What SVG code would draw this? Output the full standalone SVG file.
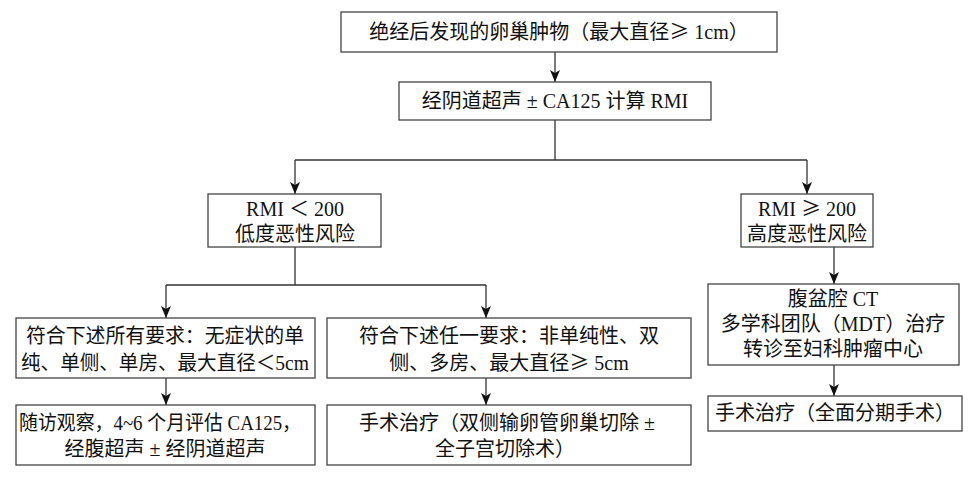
<svg xmlns="http://www.w3.org/2000/svg" width="978" height="490" viewBox="0 0 978 490">
<defs><marker id="a" markerWidth="12" markerHeight="10" refX="12" refY="5" orient="auto" markerUnits="userSpaceOnUse" viewBox="0 0 12 10"><path d="M0,0 L12,5 L0,10 L3,5 Z" fill="#111"/></marker></defs>
<style>
rect{fill:#fff;stroke:#444;stroke-width:1.3}
text{font-family:"Liberation Serif","Noto Sans CJK SC",serif;font-size:20px;fill:#111;text-anchor:middle}
.s{font-family:"Noto Sans CJK SC",sans-serif}
.c line,.c path{stroke:#333;stroke-width:1.3;fill:none}
</style>
<rect width="978" height="490" style="fill:#fff;stroke:none"/>
<g class="c">
<line x1="555" y1="52" x2="555" y2="82" marker-end="url(#a)"/>
<path d="M555,120 V160 M295,160 H807"/>
<line x1="295" y1="160" x2="295" y2="194" marker-end="url(#a)"/>
<line x1="807" y1="160" x2="807" y2="194" marker-end="url(#a)"/>
<path d="M295,247 V285 M166,285 H486"/>
<line x1="166" y1="285" x2="166" y2="318" marker-end="url(#a)"/>
<line x1="486" y1="285" x2="486" y2="318" marker-end="url(#a)"/>
<line x1="166" y1="378" x2="166" y2="405" marker-end="url(#a)"/>
<line x1="486" y1="378" x2="486" y2="405" marker-end="url(#a)"/>
<line x1="834" y1="247" x2="834" y2="284" marker-end="url(#a)"/>
<line x1="834" y1="365" x2="834" y2="396" marker-end="url(#a)"/>
</g>
<g id="n1"><rect x="341" y="12" width="436" height="40"/><text x="559" y="39">绝经后发现的卵巢肿物（最大直径<tspan class="s">≥</tspan> 1cm）</text></g>
<g id="n2"><rect x="399" y="82" width="312" height="38"/><text x="555" y="108">经阴道超声 ± CA125 计算 RMI</text></g>
<g id="n3"><rect x="208" y="194" width="173" height="53"/><text x="295" y="216">RMI <tspan class="s">＜</tspan> 200</text><text x="295" y="241">低度恶性风险</text></g>
<g id="n4"><rect x="741" y="194" width="132" height="53"/><text x="807" y="216">RMI <tspan class="s">≥</tspan> 200</text><text x="807" y="241">高度恶性风险</text></g>
<g id="n5"><rect x="16" y="318" width="299" height="60"/><text x="165" y="343" textLength="278" lengthAdjust="spacingAndGlyphs">符合下述所有要求：无症状的单</text><text x="165" y="370" textLength="288" lengthAdjust="spacingAndGlyphs">纯、单侧、单房、最大直径<tspan class="s">＜</tspan>5cm</text></g>
<g id="n6"><rect x="327" y="318" width="364" height="60"/><text x="509" y="343">符合下述任一要求：非单纯性、双</text><text x="509" y="370">侧、多房、最大直径<tspan class="s">≥</tspan> 5cm</text></g>
<g id="n7"><rect x="16" y="405" width="299" height="60"/><text x="160" y="430" textLength="282" lengthAdjust="spacingAndGlyphs">随访观察，4~6 个月评估 CA125，</text><text x="165" y="456">经腹超声 ± 经阴道超声</text></g>
<g id="n8"><rect x="327" y="405" width="364" height="60"/><text x="507" y="430">手术治疗（双侧输卵管卵巢切除 ±</text><text x="505" y="456">全子宫切除术）</text></g>
<g id="n9"><rect x="708" y="284" width="251" height="81"/><text x="833" y="306">腹盆腔 CT</text><text x="833" y="331">多学科团队（MDT）治疗</text><text x="833" y="356">转诊至妇科肿瘤中心</text></g>
<g id="n10"><rect x="708" y="396" width="254" height="35"/><text x="835" y="420">手术治疗（全面分期手术）</text></g>
</svg>
